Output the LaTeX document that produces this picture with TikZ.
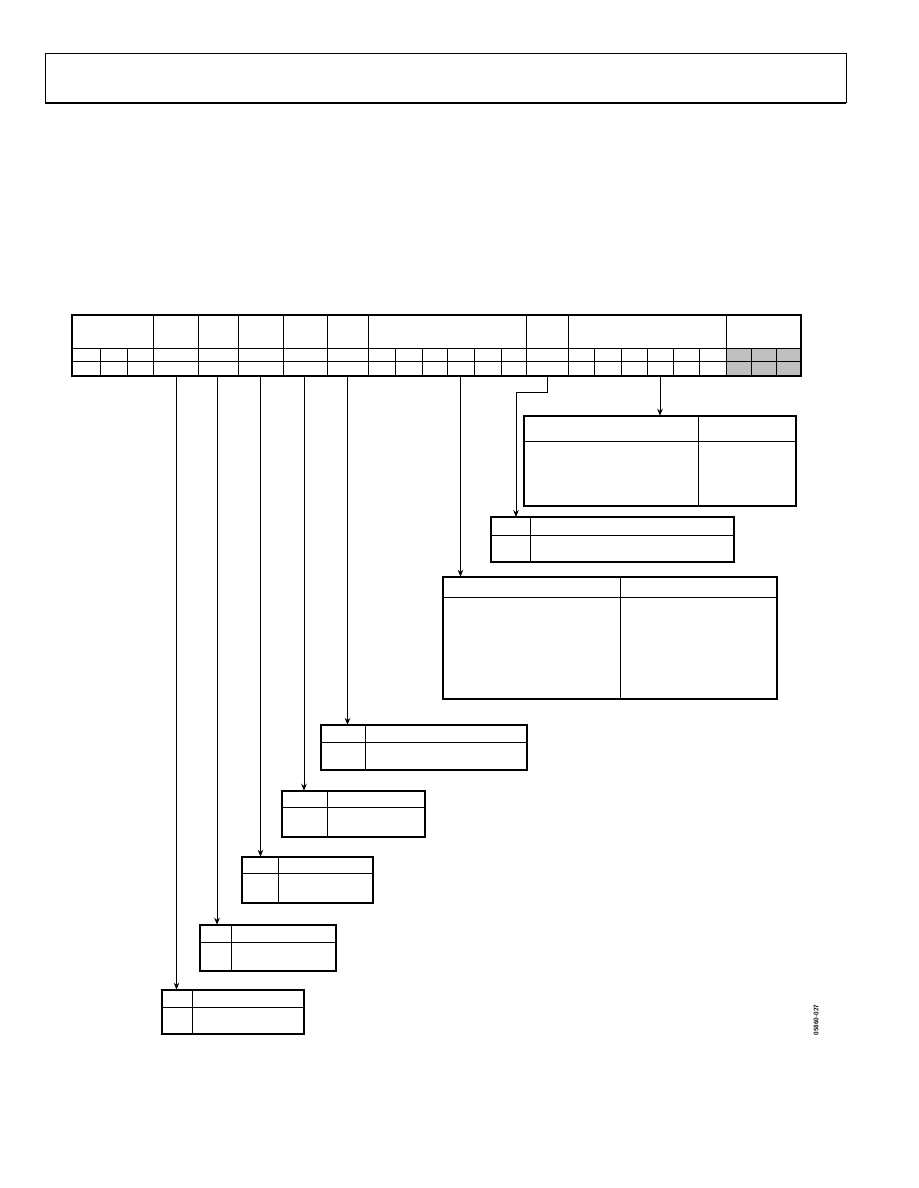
\documentclass[tikz,border=0pt]{standalone}
\usetikzlibrary{arrows.meta,calc}
\definecolor{cellgray}{RGB}{192,192,192}
\begin{document}
\begin{tikzpicture}[x=1pt,y=-1pt,
  thinline/.style={line width=1pt},
  boxframe/.style={draw,line width=1.8pt,inner sep=0pt,outer sep=0pt,anchor=north west},
  arr/.style={line width=1pt,-{Stealth[length=7pt,width=5.5pt]}}]
\useasboundingbox (0,0) rectangle (918,1188);
\fill[white] (0,0) rectangle (918,1188);

% header frame
\node[draw,line width=1pt,minimum width=801pt,minimum height=49pt,inner sep=0pt,outer sep=0pt,anchor=north west] (hdr) at (45,54) {};
\draw[line width=2.6pt] (hdr.south west) -- (hdr.south east);

% register table
\fill[cellgray] (726,348) rectangle (801,375.5);
\foreach \x in {153,198,238,283,327,368,526,568,726}
  \draw[thinline] (\x,315) -- (\x,375.5);
\draw[thinline] (72,348) -- (801,348);
\draw[thinline] (72,361.5) -- (801,361.5);
\foreach \x in {100,127,395,422,447,474,501,594,621,647,673,699,751,776}
  \draw[thinline] (\x,348) -- (\x,375.5);
\node[draw,line width=2pt,minimum width=729pt,minimum height=60.5pt,inner sep=0pt,outer sep=0pt,anchor=north west] (tbl) at (72,315) {};

% arrow sources on the table bottom
\coordinate (t1) at (176.5,375.5);
\coordinate (t2) at (217,375.5);
\coordinate (t3) at (260.5,375.5);
\coordinate (t4) at (304,375.5);
\coordinate (t5) at (347.5,375.5);
\coordinate (t6) at (460.5,375.5);
\coordinate (t7) at (547,375.5);
\coordinate (t8) at (660,375.5);
\coordinate (k7) at (516,392.7);

% description boxes: name / x1 / y1 / x2 / y2 / divider x / divider y
\foreach \n/\xa/\ya/\xb/\yb/\vx/\hy in {
  b1/524/415.7/796/506/698/441.3,
  b2/491/517/734/561.7/530.7/535.3,
  b3/442.7/576.7/776.7/699.3/620/597.3,
  b4/320.7/725/526.7/769.7/365.3/742.3,
  b5/282/790.7/425.3/837/327.3/807.3,
  b6/241.7/856.7/373/903/278.3/873.3,
  b7/199.7/924.7/336/971/231.3/942.7,
  b8/161.7/989.7/304/1034/192.3/1007.3}{
  \draw[thinline] (\xa,\hy) -- (\xb,\hy);
  \draw[thinline] (\vx,\ya) -- (\vx,\yb);
  \pgfmathsetmacro{\w}{\xb-\xa}
  \pgfmathsetmacro{\h}{\yb-\ya}
  \node[boxframe,minimum width=\w pt,minimum height=\h pt] (\n) at (\xa,\ya) {};
}

% connectors
\draw[arr] (t1) -- (t1 |- b8.north);
\draw[arr] (t2) -- (t2 |- b7.north);
\draw[arr] (t3) -- (t3 |- b6.north);
\draw[arr] (t4) -- (t4 |- b5.north);
\draw[arr] (t5) -- (t5 |- b4.north);
\draw[arr] (t6) -- (t6 |- b3.north);
\draw[arr] (t7) |- (k7) -- (k7 |- b2.north);
\draw[arr] (t8) -- (t8 |- b1.north);

% figure number
\node[rotate=90,font=\fontsize{6.5}{7}\selectfont\sffamily\bfseries,inner sep=0pt] (fignum) at (816,1020) {05860-027};
\end{tikzpicture}
\end{document}
